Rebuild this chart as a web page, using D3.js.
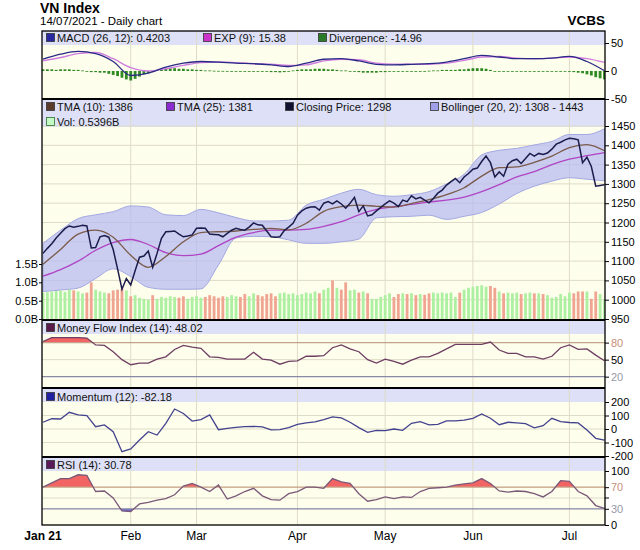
<!DOCTYPE html>
<html>
<head>
<meta charset="utf-8">
<script src="https://d3js.org/d3.v7.min.js"></script>
<style>
body { margin: 0; background: #fff; }
text { font-family: Arial, "Liberation Sans", sans-serif; }
</style>
</head>
<body>
<div id="chart"></div>
<script>
// ---- data (trading day index 0 = 4 Jan 2021) ----
var monthIdx = [0, 20, 35, 58, 78, 98, 120];
var monthLabels = ["Jan 21", "Feb", "Mar", "Apr", "May", "Jun", "Jul"];

var closePrice = [
  1120,1133,1145,1160,1172,1184,1191,1188,1190,1193,
  1191,1134,1135,1163,1166,1162,1130,1080,1027,1055,
  1038,1075,1110,1113,1126,1084,1120,1159,1176,1177,
  1178,1170,1163,1165,1168,1185,1186,1185,1170,1169,
  1168,1163,1172,1180,1185,1182,1180,1188,1199,1194,
  1193,1178,1163,1162,1163,1179,1188,1198,1219,1230,
  1237,1240,1241,1232,1250,1254,1248,1256,1248,1237,
  1250,1265,1228,1243,1217,1220,1230,1239,1248,1256,
  1250,1241,1258,1254,1269,1261,1265,1258,1251,1262,
  1276,1284,1297,1306,1314,1303,1318,1327,1338,1341,
  1358,1372,1355,1318,1331,1320,1351,1360,1364,1353,
  1366,1379,1372,1379,1376,1380,1390,1403,1408,1414,
  1418,1417,1414,1355,1369,1345,1294,1296,1298
];

// volume in billions
var volume = [
  0.72,0.73,0.75,0.76,0.78,0.74,0.80,0.78,0.75,0.70,
  0.72,1.00,0.80,0.75,0.72,0.70,0.78,0.80,0.82,0.78,
  0.62,0.65,0.58,0.55,0.52,0.65,0.55,0.60,0.58,0.62,
  0.60,0.58,0.62,0.55,0.60,0.62,0.58,0.60,0.65,0.62,
  0.58,0.62,0.60,0.65,0.62,0.60,0.68,0.62,0.70,0.65,
  0.62,0.68,0.70,0.62,0.70,0.72,0.68,0.70,0.65,0.68,
  0.72,0.70,0.75,0.70,0.80,0.85,1.05,0.85,0.80,1.00,
  0.78,0.80,0.72,0.75,0.70,0.55,0.55,0.60,0.65,0.70,
  0.60,0.68,0.70,0.68,0.70,0.65,0.68,0.66,0.70,0.72,
  0.70,0.72,0.70,0.72,0.60,0.72,0.80,0.85,0.88,0.90,
  0.92,0.88,0.90,0.85,0.75,0.70,0.72,0.70,0.72,0.68,
  0.70,0.72,0.70,0.70,0.68,0.65,0.58,0.60,0.68,0.62,
  0.72,0.70,0.75,0.75,0.75,0.55,0.75,0.68,0.54
];

var divergence = [
  3,3,3,2,3,3,3,2,2,1,
  -1,-2,-2,-3,-3,-5,-7,-9,-12,-15,
  -17,-14,-10,-6,-4,-2,2,3,4,5,
  5,4,4,3,3,2,2,1,1,0.5,
  0.3,0.2,0.1,0,0,-0.2,-0.2,0,0,0,
  -0.3,-1,-2,-2,-2.5,-2,-1,1,2,3,
  3,3,4,4,4,3,3,2,1,1,
  0,-1,-2,-3,-3,-3,-3,-2,-2,-1,
  -1,-1,0,0,0,0,0,0,0.5,1,
  1,2,2,2,2,3,3,4,5,5,
  5,4,2,-1,-1,-0.5,0,0,0,0,
  0,0,0,0,0,0,0,-1,-1,-1,
  -1,-2,-3,-4,-6,-8,-11,-13,-15
];

// smooth series, read every 4th trading day
var tma10 = [1092,1130,1170,1180,1162,1115,1084,1112,1150,1174,1176,1178,1182,1185,1181,1198,1229,
             1241,1245,1242,1240,1249,1259,1272,1290,1320,1342,1344,1356,1372,1394,1402,1386];
var tma25 = [1061,1078,1100,1128,1148,1156,1143,1122,1114,1118,1140,1162,1174,1180,1180,1182,1190,
             1202,1220,1234,1241,1247,1253,1258,1266,1280,1298,1318,1332,1350,1364,1373,1381];
var bollUpper = [1146,1180,1210,1220,1228,1243,1240,1220,1218,1234,1225,1213,1204,1204,1206,1245,1260,
                 1276,1286,1272,1268,1272,1280,1300,1325,1375,1387,1392,1401,1410,1428,1428,1443];
var bollLower = [1021,1025,1030,1055,1080,1060,1032,1027,1027,1028,1090,1160,1164,1163,1155,1146,1146,
                 1150,1157,1212,1215,1216,1219,1208,1216,1226,1248,1275,1294,1307,1316,1312,1308];
var macd = [21,30,35,31,17,-8,-4,7,14,17,16,14,13,11,8,14,21,22,18,12,11,12,13,16,22,28,25,22,22,23,26,17,0.42];
var exp9 = [18,24,31,33,22,6,0,4,10,15,16,15,13,12,10,11,18,21,20,14,12,12,12,14,19,25,26,23,22,23,25,22,15.38];

// oscillators, read every 2nd trading day
var mfi = [82,89,89,89,89,88,76,75,64,50,41,44,44,51,55,68,75,72,70,55,54,51,51,51,63,51,49,42,47,48,
           56,56,57,71,76,69,64,50,44,51,47,42,49,55,55,61,69,77,77,77,77,81,67,61,61,55,55,51,56,71,
           76,68,69,58,48];
var momentum = [50,76,74,124,104,99,17,30,-20,-168,-148,-81,-20,-45,42,148,115,59,70,104,-5,5,12,17,20,15,-7,-5,10,35,
                45,52,70,90,82,50,10,-25,-10,-12,0,-10,42,54,30,35,60,60,65,79,111,80,32,50,45,40,8,25,79,55,
                48,45,-7,-69,-82];
var rsi = [70,78,86,86,93,92,62,63,50,26,25,39,42,46,49,56,72,77,70,62,74,48,54,62,68,54,47,46,58,62,
           70,70,68,86,80,77,58,44,47,52,49,52,51,62,68,69,70,74,76,78,86,77,63,61,63,62,58,52,62,82,
           81,62,54,36,31];

var priceTicks = [950,1000,1050,1100,1150,1200,1250,1300,1350,1400,1450];
var volTicks = [0, 0.5, 1.0, 1.5];
var macdTicks = [50, 0, -50];
var mfiTicks = [80, 50, 20];
var momTicks = [200, 100, 0, -100, -200];
var rsiTicks = [100, 70, 30, 0];

// ---- layout ----
var W = 640, H = 550, L = 42, R = 605;
var cream = "#fefeec", bandFill = "#dde0f6", grid = "#dedbc8";

var svg = d3.select("#chart").append("svg").attr("width", W).attr("height", H);

var x = d3.scaleLinear().domain([0, 128]).range([43, 604.5]);
var smoothIdx = d3.range(0, 129, 4);
var oscIdx = d3.range(0, 129, 2);

var yMacd = d3.scaleLinear().domain([-50, 50]).range([99, 43]);
var yPrice = d3.scaleLinear().domain([950, 1450]).range([319, 126]);
var yVol = d3.scaleLinear().domain([0, 1.5]).range([319, 264]);
var yMfi = d3.scaleLinear().domain([0, 100]).range([388, 331.3]);
var yMom = d3.scaleLinear().domain([-200, 200]).range([456, 402]);
var yRsi = d3.scaleLinear().domain([0, 100]).range([525, 471]);

// draws background, legend band and grid of a panel, returns a clipped group
function panel(name, top, bottom, band, yScale, hGrid) {
    svg.append("rect").attr("x", L).attr("y", top).attr("width", R - L)
        .attr("height", bottom - top).attr("fill", cream);
    svg.append("rect").attr("x", L).attr("y", top).attr("width", R - L)
        .attr("height", band).attr("fill", bandFill);
    svg.append("g").selectAll("line").data(monthIdx.slice(1)).join("line")
        .attr("x1", d => x(d)).attr("x2", d => x(d))
        .attr("y1", top).attr("y2", bottom)
        .attr("stroke", grid).attr("stroke-width", 1);
    if (hGrid) {
        svg.append("g").selectAll("line").data(hGrid).join("line")
            .attr("x1", L).attr("x2", R)
            .attr("y1", d => yScale(d)).attr("y2", d => yScale(d))
            .attr("stroke", grid).attr("stroke-width", 1);
    }
    svg.append("clipPath").attr("id", "clip-" + name).append("rect")
        .attr("x", L).attr("y", top).attr("width", R - L).attr("height", bottom - top);
    return svg.append("g").attr("clip-path", "url(#clip-" + name + ")");
}

// ---- MACD panel ----
var gMacd = panel("macd", 31, 99, 14, yMacd, null);
gMacd.selectAll("rect").data(divergence).join("rect")
    .attr("x", (d, i) => x(i) - 1.4)
    .attr("width", 2.8)
    .attr("y", d => Math.min(yMacd(d), yMacd(0)))
    .attr("height", d => Math.max(0.8, Math.abs(yMacd(d) - yMacd(0))))
    .attr("fill", "#2f8a22");
var smoothLine = function (y, arr) {
    return d3.line().x((d, i) => x(smoothIdx[i])).y(d => y(d)).curve(d3.curveMonotoneX)(arr);
};
gMacd.append("path").attr("d", smoothLine(yMacd, exp9))
    .attr("fill", "none").attr("stroke", "#cf7ee0").attr("stroke-width", 1.4);
gMacd.append("path").attr("d", smoothLine(yMacd, macd))
    .attr("fill", "none").attr("stroke", "#2a2a86").attr("stroke-width", 1.3);

// ---- main panel ----
var gMain = panel("main", 99, 320, 28, yPrice, priceTicks.slice(1));
gMain.append("path")
    .attr("d", d3.area().x((d, i) => x(smoothIdx[i]))
        .y0((d, i) => yPrice(bollLower[i])).y1(d => yPrice(d))
        .curve(d3.curveMonotoneX)(bollUpper))
    .attr("fill", "#b8bcf0").attr("fill-opacity", 0.75)
    .attr("stroke", "#a2a8e2").attr("stroke-width", 1);
gMain.selectAll("rect.vol").data(volume).join("rect").attr("class", "vol")
    .attr("x", (d, i) => x(i) - 1.4)
    .attr("width", 2.8)
    .attr("y", d => yVol(d))
    .attr("height", d => yVol(0) - yVol(d))
    .attr("fill", (d, i) => (i > 0 && closePrice[i] < closePrice[i - 1]) ? "#f0a592" : "#aef0a2");
gMain.append("path").attr("d", smoothLine(yPrice, tma25))
    .attr("fill", "none").attr("stroke", "#b044c4").attr("stroke-width", 1.3);
gMain.append("path").attr("d", smoothLine(yPrice, tma10))
    .attr("fill", "none").attr("stroke", "#7a5a4a").attr("stroke-width", 1.3);
gMain.append("path")
    .attr("d", d3.line().x((d, i) => x(i)).y(d => yPrice(d))(closePrice))
    .attr("fill", "none").attr("stroke", "#1c1c4c").attr("stroke-width", 1.5);

// oscillator panel with optional coloured zones
function oscillator(name, top, bottom, y, values, color, hGrid, upper, lower) {
    var g = panel(name, top, bottom, 14, y, hGrid);
    var lineGen = d3.line().x((d, i) => x(oscIdx[i])).y(d => y(d));
    function zone(level, above, fill) {
        var cid = "zone-" + name + (above ? "-up" : "-dn");
        svg.append("clipPath").attr("id", cid).append("rect")
            .attr("x", L).attr("width", R - L)
            .attr("y", above ? top : y(level))
            .attr("height", above ? y(level) - top : bottom - y(level));
        g.append("path").attr("clip-path", "url(#" + cid + ")")
            .attr("d", d3.area().x((d, i) => x(oscIdx[i])).y0(y(level)).y1(d => y(d))(values))
            .attr("fill", fill);
    }
    if (upper) {
        zone(upper, true, "#f26464");
        g.append("line").attr("x1", L).attr("x2", R).attr("y1", y(upper)).attr("y2", y(upper))
            .attr("stroke", "#c4a488").attr("stroke-width", 1.2);
    }
    if (lower) {
        zone(lower, false, "#6a6ad8");
        g.append("line").attr("x1", L).attr("x2", R).attr("y1", y(lower)).attr("y2", y(lower))
            .attr("stroke", "#8a8aa6").attr("stroke-width", 1.2);
    }
    g.append("path").attr("d", lineGen(values))
        .attr("fill", "none").attr("stroke", color).attr("stroke-width", 1.3);
}

oscillator("mfi", 320, 388, yMfi, mfi, "#6e3e62", [50], 80, 20);
oscillator("mom", 388, 457, yMom, momentum, "#42428e", [100, 0, -100], null, null);
oscillator("rsi", 457, 525, yRsi, rsi, "#7a5878", [50], 70, 30);

// ---- frames ----
svg.append("rect").attr("x", L).attr("y", 31).attr("width", R - L).attr("height", 525 - 31)
    .attr("fill", "none").attr("stroke", "#000").attr("stroke-width", 1.3);
[99, 320, 388, 457].forEach(function (yy) {
    svg.append("line").attr("x1", L).attr("x2", R).attr("y1", yy).attr("y2", yy)
        .attr("stroke", "#000").attr("stroke-width", 2.2);
});

// ---- right axes ----
function rightAxis(y, ticks, colorOf) {
    var g = svg.append("g").attr("transform", "translate(" + R + ",0)")
        .call(d3.axisRight(y).tickValues(ticks).tickSize(4).tickPadding(2)
            .tickFormat(d => String(d)));
    g.select(".domain").remove();
    g.selectAll("text").attr("font-size", 11).attr("font-family", "Arial, 'Liberation Sans', sans-serif")
        .attr("fill", d => colorOf ? colorOf(d) : "#000");
    g.selectAll("line").attr("stroke", "#000");
    return g;
}
rightAxis(yMacd, macdTicks);
rightAxis(yPrice, priceTicks);
rightAxis(yMfi, mfiTicks, d => d === 80 ? "#c89078" : d === 20 ? "#9898a8" : "#000");
rightAxis(yMom, momTicks);
rightAxis(yRsi, rsiTicks, d => d === 70 ? "#c89078" : d === 30 ? "#9898a8" : "#000");
svg.append("line").attr("x1", R).attr("x2", R + 4).attr("y1", yRsi(50)).attr("y2", yRsi(50)).attr("stroke", "#000");

// left volume axis
var volAxis = svg.append("g").attr("transform", "translate(" + L + ",0)")
    .call(d3.axisLeft(yVol).tickValues(volTicks).tickSize(3).tickPadding(1)
        .tickFormat(d => d.toFixed(1) + "B"));
volAxis.select(".domain").remove();
volAxis.selectAll("text").attr("font-size", 11).attr("font-family", "Arial, 'Liberation Sans', sans-serif");

// ---- x axis labels ----
svg.append("g").selectAll("text").data(monthIdx).join("text")
    .attr("x", d => x(d)).attr("y", 540)
    .attr("text-anchor", "middle").attr("font-size", 12)
    .attr("font-weight", (d, i) => i === 0 ? "bold" : "normal")
    .text((d, i) => monthLabels[i]);

// ---- legends ----
function legendItem(x0, yb, fill, label, stroke) {
    svg.append("rect").attr("x", x0 + 0.5).attr("y", yb - 8.5).attr("width", 8).attr("height", 8)
        .attr("fill", fill).attr("stroke", stroke || "#333").attr("stroke-width", 0.8);
    svg.append("text").attr("x", x0 + 11).attr("y", yb).attr("font-size", 11).attr("fill", "#111").text(label);
}
legendItem(46, 42, "#2828a0", "MACD (26, 12): 0.4203");
legendItem(203, 42, "#cc33cc", "EXP (9): 15.38");
legendItem(318, 42, "#2a7a2a", "Divergence: -14.96");
legendItem(46, 111, "#5a3a2a", "TMA (10): 1386");
legendItem(166, 111, "#8a2ad0", "TMA (25): 1381");
legendItem(285, 111, "#101030", "Closing Price: 1298");
legendItem(430, 111, "#a0a0e8", "Bollinger (20, 2): 1308 - 1443");
legendItem(46, 126, "#c4f8c4", "Vol: 0.5396B", "#2f6f2f");
legendItem(46, 332, "#5a1a4a", "Money Flow Index (14): 48.02");
legendItem(46, 401, "#2020a0", "Momentum (12): -82.18");
legendItem(46, 469, "#5a1a5a", "RSI (14): 30.78");

// ---- titles ----
svg.append("text").attr("x", 40).attr("y", 13).attr("font-size", 14).attr("font-weight", "bold").text("VN Index");
svg.append("text").attr("x", 40).attr("y", 25).attr("font-size", 11.5).text("14/07/2021 - Daily chart");
svg.append("text").attr("x", R).attr("y", 25).attr("text-anchor", "end")
    .attr("font-size", 13.5).attr("font-weight", "bold").text("VCBS");
</script>
</body>
</html>
